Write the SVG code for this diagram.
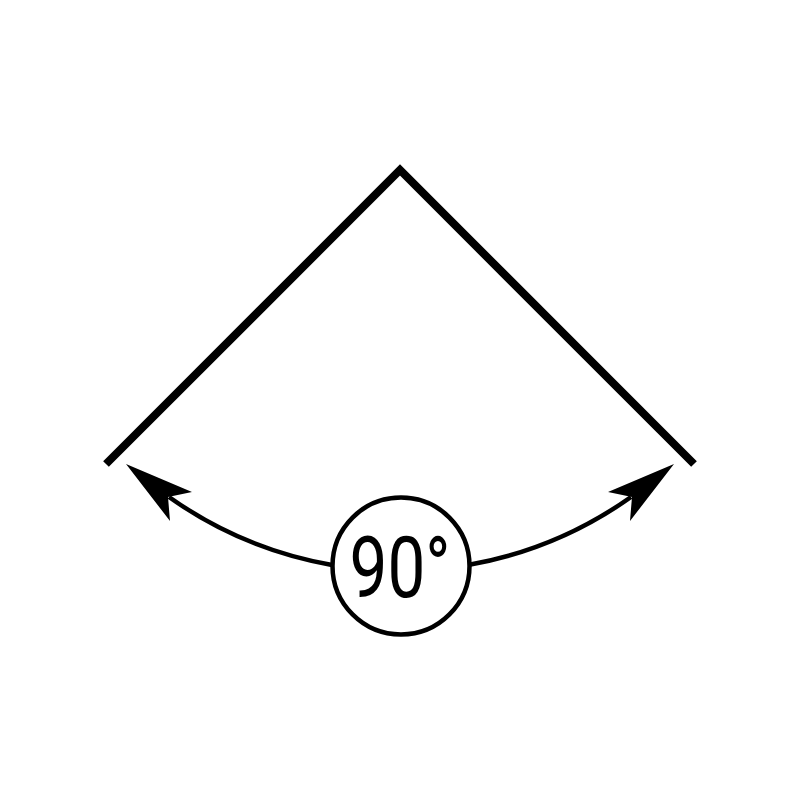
<svg xmlns="http://www.w3.org/2000/svg" xmlns:xlink="http://www.w3.org/1999/xlink" width="800" height="800" viewBox="0 0 800 800">
  <style>
    .ray { fill: none; stroke: #000; stroke-width: 8; stroke-linecap: butt; stroke-linejoin: miter; }
    .arc { fill: none; stroke: #000; stroke-width: 4.5; }
    .head { fill: #000; stroke: none; }
    .ring { fill: #fff; stroke: #000; stroke-width: 4.5; }
    .lbl { font-family: Roboto, "Liberation Sans", sans-serif; font-size: 86px; fill: #000; }
  </style>
  <defs>
    <path id="arrowhead" class="head" d="M126,464 L192,492 L168,497 L170,521 Z"/>
  </defs>
  <rect width="800" height="800" fill="#fff"/>
  <g id="angle">
    <polyline class="ray" points="106,464 400,170 694,464"/>
  </g>
  <g id="connectors">
    <path class="arc" d="M169,497 A402,402 0 0 0 332,565"/>
    <path class="arc" d="M468,565 A402,402 0 0 0 631,497"/>
    <use xlink:href="#arrowhead"/>
    <use xlink:href="#arrowhead" transform="translate(800,0) scale(-1,1)"/>
  </g>
  <g id="label">
    <circle class="ring" cx="401" cy="566" r="68.5"/>
    <text class="lbl" x="400" y="597" text-anchor="middle" textLength="101" lengthAdjust="spacingAndGlyphs">90°</text>
  </g>
</svg>
